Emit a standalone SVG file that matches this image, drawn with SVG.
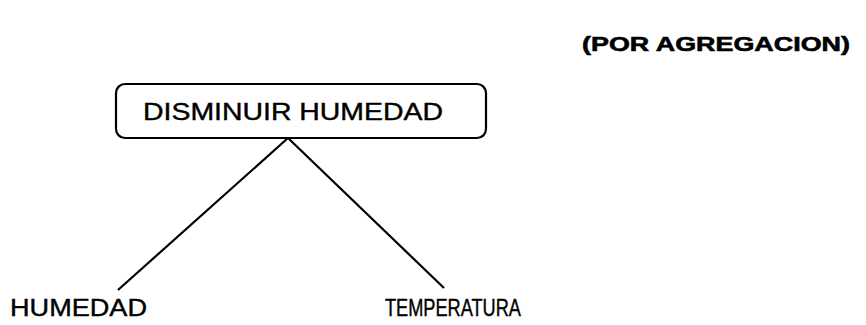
<svg xmlns="http://www.w3.org/2000/svg" width="866" height="325" viewBox="0 0 866 325">
<style>
.t{font-family:"Liberation Sans",Arial,sans-serif;fill:#000;font-size:23px;stroke:#000;stroke-width:0.4}
.b{font-weight:bold;font-size:21px;stroke-width:0.6}
.c{stroke:#000;stroke-width:2.2;fill:none}
</style>
<rect width="866" height="325" fill="#fff"/>
<text class="t b" x="582" y="51" textLength="268" lengthAdjust="spacingAndGlyphs">(POR AGREGACION)</text>
<g id="connectors">
<line class="c" x1="288" y1="138" x2="118" y2="290"/>
<line class="c" x1="288" y1="138" x2="444" y2="288"/>
</g>
<g id="root">
<rect x="116" y="84" width="370" height="54" rx="9" fill="#fff" stroke="#000" stroke-width="2.2"/>
<text class="t" x="143" y="120" textLength="300" lengthAdjust="spacingAndGlyphs">DISMINUIR HUMEDAD</text>
</g>
<g id="humedad">
<text class="t" x="10" y="316" textLength="137" lengthAdjust="spacingAndGlyphs">HUMEDAD</text>
</g>
<g id="temperatura">
<text class="t" x="385" y="316" textLength="136" lengthAdjust="spacingAndGlyphs">TEMPERATURA</text>
</g>
</svg>
